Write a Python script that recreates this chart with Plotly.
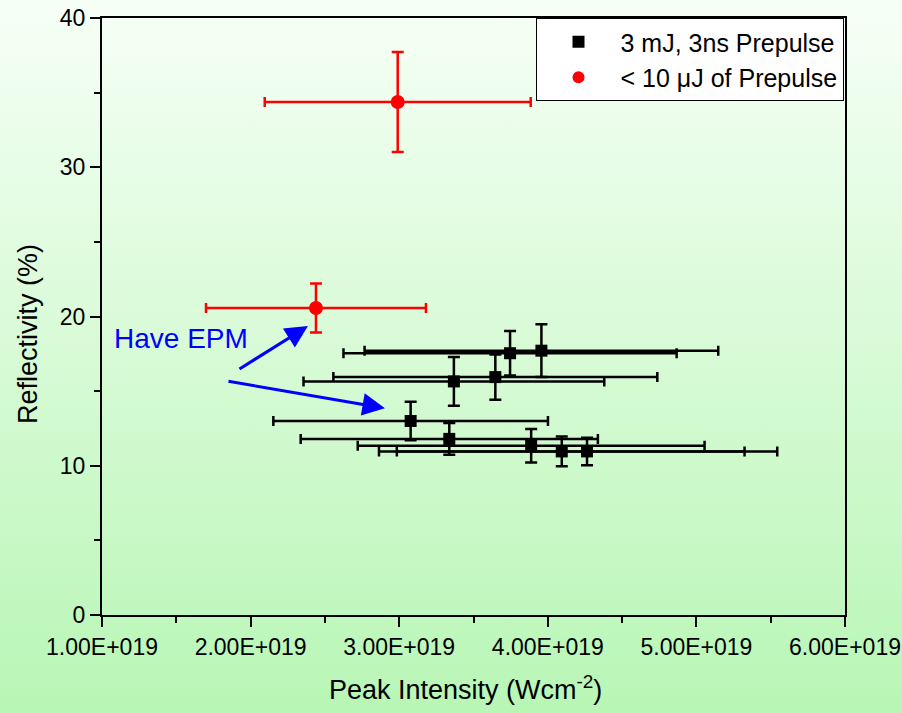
import base64
import plotly.graph_objects as go

# ---- data ----
black_x = [3.746e19, 3.957e19, 3.368e19, 3.647e19, 3.077e19, 3.337e19, 3.888e19, 4.094e19, 4.264e19]
black_y = [17.54, 17.71, 15.65, 15.94, 13.0, 11.80, 11.34, 10.96, 10.96]
black_xerr = [1.121e19, 1.19e19, 1.012e19, 1.09e19, 0.924e19, 1.0e19, 1.167e19, 1.23e19, 1.28e19]
black_yerr = [1.49, 1.77, 1.63, 1.52, 1.29, 1.07, 1.13, 1.0, 0.92]

red_x = [2.99e19, 2.44e19]
red_y = [34.37, 20.57]
red_xerr = [0.895e19, 0.74e19]
red_yerr = [3.35, 1.64]

x_tickvals = [1e19, 2e19, 3e19, 4e19, 5e19, 6e19]
x_ticktext = ["1.00E+019", "2.00E+019", "3.00E+019", "4.00E+019", "5.00E+019", "6.00E+019"]
y_tickvals = [0, 10, 20, 30, 40]

series_names = ["3 mJ, 3ns Prepulse", "< 10 \u03bcJ of Prepulse"]

# ---- figure ----
W, H = 902, 713
ML, MR, MT, MB = 102, 57, 18, 98
pw, ph = W - ML - MR, H - MT - MB
FONT = "Liberation Sans, Arial"

svg = f'''<svg xmlns="http://www.w3.org/2000/svg" width="{W}" height="{H}" preserveAspectRatio="none">
<defs><linearGradient id="g" x1="0" y1="0" x2="0" y2="1">
<stop offset="0" stop-color="#f6fff6"/><stop offset="1" stop-color="#b8f6b5"/>
</linearGradient></defs><rect width="{W}" height="{H}" fill="url(#g)"/></svg>'''
bg_src = "data:image/svg+xml;base64," + base64.b64encode(svg.encode()).decode()

fig = go.Figure()
fig.add_trace(go.Scatter(
    x=black_x, y=black_y, mode="markers", name=series_names[0],
    marker=dict(symbol="square", size=12, color="black"),
    error_x=dict(type="data", array=black_xerr, color="black", thickness=2.5, width=5),
    error_y=dict(type="data", array=black_yerr, color="black", thickness=2.5, width=6),
))
fig.add_trace(go.Scatter(
    x=red_x, y=red_y, mode="markers", name=series_names[1],
    marker=dict(symbol="circle", size=14, color="#ff0000"),
    error_x=dict(type="data", array=red_xerr, color="#ff0000", thickness=2.5, width=5),
    error_y=dict(type="data", array=red_yerr, color="#ff0000", thickness=2.5, width=6),
))

fig.add_layout_image(dict(
    source=bg_src, xref="paper", yref="paper",
    x=-ML / pw, y=1 + MT / ph, sizex=W / pw, sizey=H / ph,
    xanchor="left", yanchor="top", sizing="stretch", layer="below",
))

# annotations: text and arrows
fig.add_annotation(x=1.07e19, y=18.5, text="Have EPM", showarrow=False,
                   xanchor="left", yanchor="middle",
                   font=dict(family=FONT, size=28, color="#0000ff"))
fig.add_annotation(x=2.386e19, y=19.36, ax=1.915e19, ay=16.42, axref="x", ayref="y",
                   showarrow=True, arrowhead=2, arrowsize=1.5, arrowwidth=3, arrowcolor="#0000ff", text="")
fig.add_annotation(x=2.904e19, y=13.85, ax=1.841e19, ay=15.68, axref="x", ayref="y",
                   showarrow=True, arrowhead=2, arrowsize=1.5, arrowwidth=3, arrowcolor="#0000ff", text="")

# axis titles as annotations (positioned like the reference)
fig.add_annotation(xref="paper", yref="paper", x=(28 - ML) / pw, y=(H - MB - 334) / ph,
                   text="Reflectivity (%)", textangle=-90, showarrow=False,
                   xanchor="center", yanchor="middle",
                   font=dict(family=FONT, size=27, color="black"))
fig.add_annotation(xref="paper", yref="paper", x=(465 - ML) / pw, y=(H - MB - 688) / ph,
                   text="Peak Intensity (Wcm<sup>-2</sup>)", showarrow=False,
                   xanchor="center", yanchor="middle",
                   font=dict(family=FONT, size=27, color="black"))

axis_font = dict(family=FONT, size=23, color="black")
fig.update_layout(
    width=W, height=H,
    margin=dict(l=ML, r=MR, t=MT, b=MB, autoexpand=False),
    paper_bgcolor="rgba(0,0,0,0)", plot_bgcolor="rgba(0,0,0,0)",
    showlegend=True,
    legend=dict(x=0.998, y=1.0, xanchor="right", yanchor="top", bgcolor="white",
                bordercolor="black", borderwidth=1, itemwidth=74,
                font=dict(family=FONT, size=25, color="black"),
                itemsizing="constant", tracegroupgap=0),
    xaxis=dict(range=[1e19, 6e19], tickvals=x_tickvals, ticktext=x_ticktext, automargin=False,
               showgrid=False, zeroline=False, showline=True, linecolor="black", linewidth=2,
               mirror=True, ticks="outside", ticklen=10, tickwidth=2, tickcolor="black",
               tickfont=axis_font,
               minor=dict(dtick=0.5e19, tick0=1e19, ticks="outside", ticklen=6, tickwidth=2, tickcolor="black")),
    yaxis=dict(range=[0, 40], tickvals=y_tickvals, automargin=False,
               showgrid=False, zeroline=False, showline=True, linecolor="black", linewidth=2,
               mirror=True, ticks="outside", ticklen=10, tickwidth=2, tickcolor="black",
               tickfont=axis_font,
               minor=dict(dtick=5, ticks="outside", ticklen=6, tickwidth=2, tickcolor="black")),
)

fig.write_html("out.html")
